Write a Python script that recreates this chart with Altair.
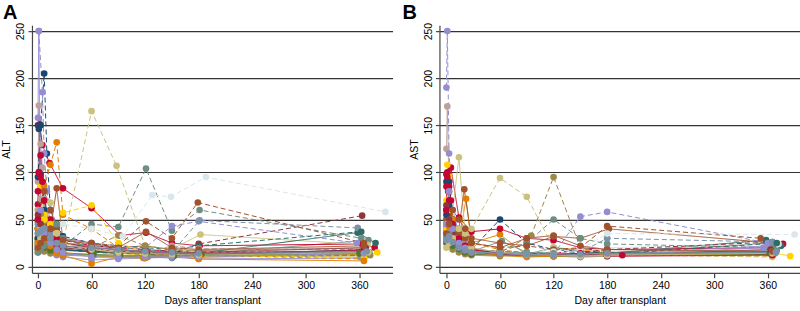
import altair as alt
import pandas as pd

# Stata s2color palette (cycled by patient)
PALETTE = ["#1a476f", "#90353b", "#55752f", "#e37e00", "#6e8e84", "#c10534",
           "#938dd2", "#cac27e", "#a0522d", "#7b92a8", "#2d6d66", "#9c8847",
           "#bfa19c", "#ffd200", "#d9e6eb"]

X_TICKS = [0, 60, 120, 180, 240, 300, 360]
Y_TICKS = [0, 50, 100, 150, 200, 250]

# ---------------- Panel A : ALT ----------------
ALT_DAYS = [
    [0, 1, 3, 5, 7, 14, 21, 28, 60, 90, 120, 150, 180, 365],
    [0, 2, 4, 7, 14, 28, 59, 91, 122, 178, 362],
    [0, 1, 3, 7, 14, 21, 28, 62, 120, 183, 366],
    [0, 3, 7, 14, 21, 28, 61, 90, 118, 150, 181, 364],
    [1, 3, 5, 7, 14, 21, 28, 60, 88, 120, 152, 180, 370],
    [0, 2, 5, 13, 28, 60, 92, 121, 150, 181, 363, 377],
    [0, 3, 7, 14, 21, 28, 60, 90, 120, 150, 180, 365],
    [0, 3, 7, 14, 21, 28, 60, 91, 120, 149, 182, 369],
    [0, 1, 3, 7, 14, 21, 28, 60, 90, 120, 150, 180, 365],
    [0, 3, 7, 14, 21, 28, 63, 90, 123, 150, 178, 361],
    [0, 3, 7, 14, 21, 28, 60, 90, 120, 150, 180, 358, 378],
    [0, 3, 7, 14, 28, 60, 90, 120, 150, 180, 372],
    [0, 1, 3, 5, 7, 14, 21, 28, 60, 90, 120, 150, 180, 365],
    [0, 3, 5, 7, 14, 21, 28, 60, 90, 120, 150, 180, 365, 380],
    [0, 3, 7, 14, 21, 28, 60, 90, 120, 150, 180, 366],
    [0, 3, 7, 10, 14, 21, 28, 60, 90, 120, 150, 180, 365],
    [0, 3, 7, 14, 21, 28, 60, 90, 120, 150, 180, 363],
    [0, 3, 7, 14, 21, 28, 60, 90, 120, 150, 180, 365],
    [0, 3, 7, 14, 21, 28, 60, 90, 120, 150, 180, 365],
    [0, 3, 7, 14, 21, 28, 60, 90, 121, 150, 181, 362],
    [0, 1, 3, 7, 14, 21, 28, 60, 90, 120, 150, 180, 365],
    [1, 5, 7, 10, 14, 21, 28, 60, 90, 120, 150, 180, 357],
    [0, 3, 7, 14, 21, 28, 60, 88, 120, 150, 180, 365],
    [0, 3, 7, 14, 21, 28, 60, 90, 121, 150, 179, 365],
    [0, 3, 7, 14, 21, 28, 60, 90, 120, 150, 181, 358],
    [0, 3, 7, 14, 21, 28, 60, 90, 120, 150, 180, 362],
    [0, 3, 7, 14, 21, 28, 60, 90, 120, 150, 180, 365],
    [0, 3, 7, 14, 21, 28, 60, 90, 120, 150, 180, 365],
    [0, 3, 7, 14, 21, 28, 60, 90, 120, 150, 180, 365],
    [0, 3, 7, 14, 21, 28, 60, 95, 128, 149, 188, 389],
    [0, 3, 7, 14, 21, 28, 60, 90, 120, 150, 180, 365],
    [0, 3, 7, 14, 21, 28, 58, 90, 120, 150, 180, 367],
    [0, 3, 7, 14, 21, 28, 62, 92, 120, 152, 180, 360],
    [0, 3, 7, 14, 21, 28, 60, 90, 120, 150, 180, 365],
    [0, 3, 7, 14, 21, 28, 60, 90, 120, 150, 180, 371],
    [0, 1, 3, 5, 7, 14, 21, 28, 60, 90, 120, 150, 180, 365],
    [0, 1, 3, 7, 14, 21, 28, 60, 90, 120, 150, 180, 365],
    [0, 3, 7, 14, 21, 28, 60, 90, 120, 150, 180, 370],
    [0, 3, 7, 14, 21, 28, 60, 90, 121, 150, 180, 365],
    [0, 3, 7, 14, 21, 28, 60, 90, 120, 150, 180, 368],
]
ALT_VALS = [
    [150, 146, 98, 90, 60, 35, 28, 22, 18, 15, 17, 14, 13, 15],
    [48, 55, 40, 32, 25, 20, 18, 16, 14, 12, 16],
    [30, 45, 47, 38, 25, 20, 18, 15, 14, 13, 12],
    [22, 35, 28, 20, 18, 15, 12, 10, 9, 12, 11, 13],
    [35, 40, 48, 30, 22, 18, 17, 16, 14, 18, 15, 13, 28],
    [66, 151, 129, 110, 83, 62, 33, 36, 25, 22, 24, 20],
    [20, 25, 22, 15, 12, 10, 7, 8, 9, 10, 8, 9],
    [25, 30, 40, 60, 42, 30, 20, 15, 14, 18, 34, 23],
    [40, 38, 35, 45, 40, 30, 25, 22, 20, 22, 18, 17, 20],
    [18, 22, 20, 16, 15, 13, 12, 11, 10, 9, 12, 10],
    [28, 32, 26, 22, 20, 18, 16, 15, 14, 16, 14, 36, 25],
    [15, 18, 16, 14, 12, 11, 10, 12, 11, 10, 12],
    [90, 171, 130, 105, 72, 50, 40, 30, 22, 18, 16, 14, 15, 17],
    [60, 85, 70, 55, 38, 30, 25, 18, 14, 12, 15, 13, 12, 15],
    [28, 40, 35, 27, 22, 20, 18, 16, 14, 15, 19, 20],
    [95, 150, 205, 120, 60, 45, 32, 25, 20, 18, 16, 15, 14],
    [40, 45, 38, 30, 25, 22, 18, 16, 15, 14, 24, 54],
    [25, 42, 38, 30, 22, 18, 15, 14, 13, 12, 13, 12],
    [40, 60, 85, 108, 132, 55, 40, 20, 10, 15, 12, 8],
    [30, 45, 38, 30, 25, 22, 45, 42, 104, 38, 60, 30],
    [80, 100, 95, 70, 50, 35, 28, 22, 20, 18, 16, 15, 14],
    [250, 185, 120, 80, 60, 40, 30, 25, 22, 20, 43, 48, 25],
    [30, 45, 50, 40, 30, 25, 165, 107, 22, 18, 15, 14],
    [50, 70, 80, 60, 40, 30, 25, 22, 48, 30, 68, 25],
    [45, 50, 40, 35, 30, 25, 22, 20, 18, 15, 49, 41],
    [22, 30, 26, 24, 20, 18, 16, 22, 20, 18, 22, 37],
    [35, 55, 48, 40, 30, 25, 20, 33, 22, 18, 16, 15],
    [60, 72, 50, 40, 28, 22, 18, 16, 14, 22, 19, 18],
    [30, 40, 50, 45, 35, 57, 65, 25, 15, 12, 11, 10],
    [20, 25, 30, 28, 35, 45, 40, 32, 76, 74, 95, 58],
    [30, 26, 24, 22, 20, 18, 16, 15, 14, 13, 12, 18],
    [55, 45, 35, 28, 22, 20, 17, 15, 14, 13, 15, 20],
    [18, 22, 20, 17, 15, 14, 13, 12, 11, 11, 12, 14],
    [25, 30, 28, 22, 14, 12, 3, 10, 9, 12, 8, 6],
    [15, 18, 22, 25, 45, 30, 20, 18, 16, 14, 13, 15],
    [50, 100, 118, 90, 70, 40, 30, 25, 20, 18, 16, 15, 14, 17],
    [158, 250, 60, 35, 25, 18, 15, 10, 9, 10, 11, 10, 14],
    [20, 30, 40, 68, 35, 25, 18, 15, 14, 13, 12, 15],
    [20, 25, 30, 40, 83, 28, 24, 20, 37, 20, 18, 22],
    [35, 38, 40, 30, 25, 22, 20, 18, 16, 15, 14, 16],
]

# ---------------- Panel B : AST ----------------
AST_DAYS = [
    [0, 1, 3, 5, 7, 14, 21, 28, 60, 90, 120, 150, 180, 365],
    [0, 3, 7, 14, 21, 28, 60, 90, 120, 150, 180, 366],
    [0, 3, 7, 14, 21, 28, 60, 90, 120, 150, 180, 362],
    [0, 3, 7, 14, 22, 28, 60, 90, 120, 150, 180, 365],
    [0, 3, 7, 14, 21, 28, 62, 90, 120, 150, 180, 370],
    [0, 2, 5, 14, 28, 60, 90, 120, 150, 180, 365, 377],
    [0, 3, 7, 14, 21, 28, 60, 90, 120, 150, 180, 360],
    [0, 3, 7, 14, 21, 28, 60, 90, 120, 150, 180, 365],
    [0, 3, 7, 14, 20, 28, 60, 90, 120, 150, 182, 365],
    [0, 3, 7, 14, 21, 28, 60, 90, 120, 150, 180, 368],
    [0, 3, 7, 14, 21, 28, 60, 90, 120, 150, 180, 358, 375],
    [0, 3, 7, 14, 21, 28, 60, 90, 120, 150, 180, 365],
    [0, 1, 3, 5, 7, 14, 21, 28, 60, 90, 120, 150, 180, 365],
    [0, 1, 3, 7, 14, 21, 28, 60, 90, 120, 150, 180, 365, 385],
    [0, 3, 7, 14, 21, 28, 60, 90, 120, 150, 180, 372],
    [0, 3, 7, 14, 21, 28, 60, 90, 120, 150, 180, 365],
    [0, 3, 7, 14, 21, 28, 60, 90, 120, 150, 180, 365],
    [0, 3, 7, 14, 21, 28, 60, 90, 120, 150, 180, 365],
    [0, 3, 7, 14, 21, 28, 60, 90, 120, 150, 180, 365],
    [0, 3, 7, 14, 21, 28, 60, 90, 120, 150, 180, 365],
    [0, 1, 3, 7, 14, 21, 28, 60, 90, 120, 150, 197, 365],
    [0, 1, 3, 7, 14, 21, 28, 60, 90, 120, 150, 180, 360],
    [0, 3, 7, 14, 21, 28, 60, 90, 120, 150, 180, 365],
    [0, 3, 7, 14, 21, 28, 60, 90, 120, 150, 180, 352],
    [0, 3, 7, 14, 21, 28, 60, 90, 120, 150, 180, 365],
    [0, 3, 7, 14, 21, 28, 60, 90, 120, 150, 180, 370],
    [0, 3, 7, 14, 21, 28, 60, 95, 120, 150, 180, 365],
    [0, 3, 7, 14, 21, 28, 60, 90, 120, 150, 180, 365],
    [0, 3, 7, 14, 21, 28, 60, 90, 120, 150, 180, 365],
    [0, 3, 7, 14, 21, 28, 60, 90, 120, 150, 180, 390],
    [0, 3, 7, 14, 21, 28, 60, 90, 120, 150, 180, 365],
    [0, 3, 7, 14, 21, 28, 60, 90, 120, 150, 180, 363],
    [0, 3, 7, 14, 21, 28, 60, 90, 120, 150, 180, 365],
    [0, 3, 7, 14, 21, 28, 60, 90, 120, 150, 180, 367],
    [0, 3, 7, 14, 21, 28, 60, 90, 120, 150, 180, 365],
    [0, 1, 3, 5, 7, 14, 21, 28, 60, 90, 120, 150, 180, 365],
    [0, 3, 7, 14, 21, 28, 60, 90, 120, 150, 180, 355],
    [0, 3, 7, 14, 21, 28, 60, 90, 120, 150, 180, 365],
    [0, 3, 7, 14, 21, 28, 60, 90, 120, 150, 180, 365],
    [0, 3, 7, 14, 21, 28, 60, 90, 120, 150, 180, 369],
]
AST_VALS = [
    [90, 85, 70, 50, 35, 25, 20, 18, 15, 14, 13, 14, 15, 16],
    [60, 45, 30, 22, 18, 16, 14, 13, 12, 13, 14, 25],
    [35, 30, 25, 20, 16, 14, 13, 12, 12, 11, 13, 14],
    [40, 55, 35, 28, 72, 25, 34, 12, 20, 18, 14, 13],
    [45, 38, 28, 20, 18, 16, 27, 15, 14, 13, 12, 17],
    [98, 80, 105, 52, 37, 40, 30, 28, 20, 18, 20, 24],
    [50, 40, 28, 20, 15, 14, 12, 12, 13, 12, 13, 22],
    [30, 40, 60, 116, 35, 20, 14, 13, 12, 14, 15, 18],
    [50, 60, 45, 40, 82, 30, 25, 22, 32, 30, 40, 25],
    [30, 28, 22, 18, 15, 14, 13, 12, 12, 11, 12, 14],
    [40, 35, 28, 20, 16, 15, 14, 13, 20, 16, 14, 28, 22],
    [25, 22, 18, 15, 13, 12, 11, 12, 11, 10, 11, 13],
    [125, 170, 80, 50, 35, 25, 20, 17, 15, 14, 13, 14, 13, 15],
    [70, 108, 95, 50, 30, 22, 18, 16, 14, 13, 12, 13, 15, 11],
    [25, 30, 24, 18, 16, 14, 13, 12, 20, 13, 20, 24],
    [60, 90, 50, 30, 22, 18, 50, 25, 18, 16, 15, 14],
    [35, 40, 30, 25, 20, 18, 16, 15, 14, 14, 18, 26],
    [30, 35, 28, 22, 18, 15, 13, 12, 11, 12, 13, 13],
    [45, 58, 50, 40, 35, 25, 18, 14, 12, 13, 12, 11],
    [40, 50, 35, 28, 22, 18, 16, 25, 50, 30, 24, 20],
    [85, 100, 70, 45, 30, 22, 18, 15, 14, 13, 20, 12, 13],
    [190, 250, 120, 60, 35, 25, 20, 15, 14, 13, 53, 58, 25],
    [35, 45, 40, 35, 30, 40, 94, 74, 20, 14, 13, 10],
    [40, 55, 45, 35, 30, 25, 20, 22, 18, 20, 43, 30],
    [35, 40, 30, 25, 20, 18, 16, 15, 14, 15, 30, 26],
    [30, 35, 28, 22, 18, 16, 15, 14, 13, 14, 13, 25],
    [30, 40, 35, 28, 22, 18, 15, 33, 95, 20, 14, 13],
    [45, 50, 35, 25, 20, 16, 14, 13, 12, 13, 14, 15],
    [40, 60, 45, 30, 20, 16, 14, 12, 11, 12, 13, 12],
    [30, 35, 28, 22, 18, 16, 14, 15, 16, 18, 35, 34],
    [55, 65, 40, 28, 20, 16, 14, 13, 12, 12, 13, 15],
    [65, 50, 35, 25, 18, 15, 13, 12, 12, 11, 12, 18],
    [25, 28, 22, 18, 15, 13, 12, 11, 11, 12, 12, 13],
    [35, 42, 30, 22, 18, 15, 12, 10, 11, 12, 13, 14],
    [30, 35, 28, 22, 18, 16, 14, 15, 14, 13, 12, 16],
    [60, 95, 85, 70, 45, 30, 22, 18, 14, 13, 12, 14, 11, 12],
    [45, 80, 40, 25, 20, 16, 14, 12, 12, 11, 12, 20],
    [20, 25, 30, 40, 35, 20, 15, 13, 12, 11, 12, 14],
    [35, 45, 60, 50, 40, 25, 20, 30, 33, 22, 18, 16],
    [28, 32, 26, 20, 17, 15, 14, 13, 12, 13, 14, 15],
]

FONT = "Liberation Sans"


def to_frame(days, vals):
    rows = []
    for i, (d, v) in enumerate(zip(days, vals)):
        for dd, vv in zip(d, v):
            rows.append({"pid": f"p{i:02d}", "day": dd, "val": vv})
    return pd.DataFrame(rows)


def panel(days, vals, letter, ytitle, xtitle, width, xdom, dx):
    df = to_frame(days, vals)
    ids = [f"p{i:02d}" for i in range(len(days))]
    colors = [PALETTE[i % 15] for i in range(len(ids))]
    dashes = [[5, 3] if (i // 15) == 1 else [1, 0] for i in range(len(ids))]
    base = alt.Chart(df).encode(
        x=alt.X("day:Q",
                scale=alt.Scale(domain=xdom, nice=False, zero=False),
                axis=alt.Axis(values=X_TICKS, title=xtitle, grid=False,
                              tickSize=5, labelPadding=3, titlePadding=4)),
        y=alt.Y("val:Q",
                scale=alt.Scale(domain=[-6.7, 256.3], nice=False, zero=False),
                axis=alt.Axis(values=Y_TICKS, title=ytitle, grid=True,
                              labelAngle=270, labelAlign="center",
                              labelBaseline="bottom", tickSize=4,
                              labelPadding=2, titlePadding=4)),
        color=alt.Color("pid:N", scale=alt.Scale(domain=ids, range=colors),
                        legend=None),
    )
    lines = base.mark_line(strokeWidth=1).encode(
        strokeDash=alt.StrokeDash("pid:N",
                                  scale=alt.Scale(domain=ids, range=dashes),
                                  legend=None),
        order="day:Q",
    )
    pts = base.mark_circle(size=44, opacity=1)
    return (lines + pts).properties(
        width=width, height=248,
        title=alt.TitleParams(letter, anchor="start", frame="group", dx=dx,
                              fontSize=20, fontWeight="bold", font=FONT,
                              offset=-1, color="#000000"),
    )


chart_a = panel(ALT_DAYS, ALT_VALS, "A", "ALT", "Days after transplant",
                361, [-6.7, 397], -29)
chart_b = panel(AST_DAYS, AST_VALS, "B", "AST", "Day after transplant",
                361, [-7.8, 396], -37)

chart = alt.hconcat(chart_a, chart_b, spacing=10).properties(
    padding={"left": 2, "top": 3, "right": 0, "bottom": 0}
).configure(background="white").configure_view(stroke=None).configure_axis(
    labelFont=FONT, titleFont=FONT, labelFontSize=10.5, titleFontSize=10.5,
    titleFontWeight="normal", labelColor="#000000", titleColor="#000000",
    domainColor="#444444", tickColor="#444444", gridColor="#333333",
    gridOpacity=1, gridWidth=1.2, domainWidth=1.2, tickWidth=1.2,
)

chart.save("out.html", embed_options={"renderer": "svg", "actions": False})
